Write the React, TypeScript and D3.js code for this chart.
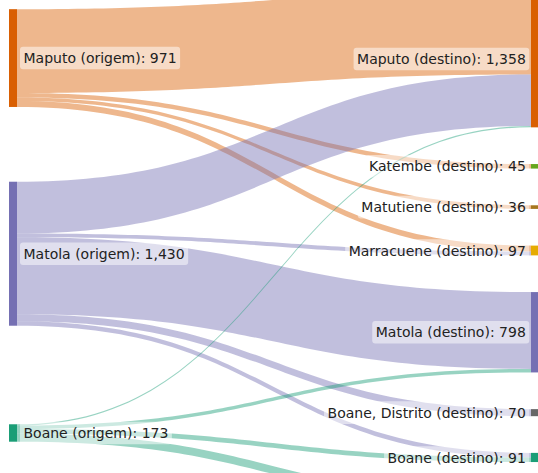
import * as d3 from "d3";
import { useEffect, useRef } from "react";

const nodeNames = [
  "Maputo (origem)",
  "Matola (origem)",
  "Boane (origem)",
  "Maputo (destino)",
  "Katembe (destino)",
  "Matutiene (destino)",
  "Marracuene (destino)",
  "Matola (destino)",
  "Boane, Distrito (destino)",
  "Boane (destino)",
  "Namaacha (destino)",
];
const nodeColors = [
  "#d95f02",
  "#7570b3",
  "#1b9e77",
  "#d95f02",
  "#66a61e",
  "#a6761d",
  "#e6ab02",
  "#7570b3",
  "#666666",
  "#1b9e77",
  "#e7298a",
];

// links: source index -> target index, value
const linkSources = [0, 0, 0, 0, 1, 1, 1, 1, 1, 2, 2, 2, 2];
const linkTargets = [3, 4, 5, 6, 3, 6, 7, 8, 9, 3, 7, 9, 10];
const linkValues = [832, 45, 36, 58, 513, 39, 763, 70, 45, 13, 35, 46, 79];

const width = 538;
const height = 473;
const nodeWidth = 8;
const nodePadding = 36.7;
const columnTop = -9.4;
const sourceColumnBottom = 441.7;
const leftX = 9;
const rightX = 531;
const linkOpacity = 0.45;
const fontSize = 14;

type SNode = {
  name: string;
  index: number;
  color: string;
  value: number;
  isSource: boolean;
  x0: number;
  x1: number;
  y0: number;
  y1: number;
};

type SLink = {
  source: number;
  target: number;
  value: number;
  sy0: number;
  sy1: number;
  ty0: number;
  ty1: number;
};

export default function App() {
  const svgRef = useRef<SVGSVGElement | null>(null);

  useEffect(() => {
    if (svgRef.current) drawSankey(svgRef.current);
  }, []);

  return (
    <svg
      ref={svgRef}
      width={width}
      height={height}
      style={{
        position: "absolute",
        left: 0,
        top: 0,
        fontFamily: "'DejaVu Sans', sans-serif",
        background: "#fff",
      }}
    />
  );
}

function drawSankey(svgElement: SVGSVGElement) {
  const svg = d3.select(svgElement);
  svg.selectAll("*").remove();

  const valueScale = d3.scaleLinear().domain([0, 1000]).range([0, 100.7]);

  const links: SLink[] = linkValues.map((value, i) => ({
    source: linkSources[i],
    target: linkTargets[i],
    value,
    sy0: 0,
    sy1: 0,
    ty0: 0,
    ty1: 0,
  }));

  const nodes: SNode[] = nodeNames.map((name, i) => {
    const inValue = d3.sum(links.filter((l) => l.target === i), (l) => l.value);
    const outValue = d3.sum(links.filter((l) => l.source === i), (l) => l.value);
    return {
      name,
      index: i,
      color: nodeColors[i],
      value: Math.max(inValue, outValue),
      isSource: inValue === 0,
      x0: 0,
      x1: 0,
      y0: 0,
      y1: 0,
    };
  });

  const sources = nodes.filter((n) => n.isSource);
  const targets = nodes.filter((n) => !n.isSource);

  // target column: packed from the top with constant padding
  let y = columnTop;
  targets.forEach((n) => {
    n.x0 = rightX;
    n.x1 = rightX + nodeWidth;
    n.y0 = y;
    n.y1 = y + valueScale(n.value);
    y = n.y1 + nodePadding;
  });

  targets.forEach((n) => {
    let offset = n.y0;
    links
      .filter((l) => l.target === n.index)
      .sort((a, b) => a.source - b.source)
      .forEach((l) => {
        l.ty0 = offset;
        offset += valueScale(l.value);
        l.ty1 = offset;
      });
  });

  // source column: each node centred on the weighted mean of its link ends,
  // then kept inside the column's bottom edge
  sources.forEach((n) => {
    const out = links.filter((l) => l.source === n.index);
    const center = d3.sum(out, (l) => (l.value * (l.ty0 + l.ty1)) / 2) / n.value;
    const h = valueScale(n.value);
    n.x0 = leftX;
    n.x1 = leftX + nodeWidth;
    n.y0 = center - h / 2;
    n.y1 = center + h / 2;
    if (n.y1 > sourceColumnBottom) {
      n.y0 -= n.y1 - sourceColumnBottom;
      n.y1 = sourceColumnBottom;
    }
  });

  sources.forEach((n) => {
    let offset = n.y0;
    links
      .filter((l) => l.source === n.index)
      .sort((a, b) => nodes[a.target].y0 - nodes[b.target].y0)
      .forEach((l) => {
        l.sy0 = offset;
        offset += valueScale(l.value);
        l.sy1 = offset;
      });
  });

  const linkPath = (l: SLink) => {
    const xs = nodes[l.source].x1;
    const xt = nodes[l.target].x0;
    const xm = d3.interpolateNumber(xs, xt)(0.5);
    const p = d3.path();
    p.moveTo(xs, l.sy0);
    p.bezierCurveTo(xm, l.sy0, xm, l.ty0, xt, l.ty0);
    p.lineTo(xt, l.ty1);
    p.bezierCurveTo(xm, l.ty1, xm, l.sy1, xs, l.sy1);
    p.closePath();
    return p.toString();
  };

  svg
    .append("g")
    .selectAll("path")
    .data(links)
    .join("path")
    .attr("d", linkPath)
    .attr("fill", (l) => nodes[l.source].color)
    .attr("fill-opacity", linkOpacity);

  svg
    .append("g")
    .selectAll("rect")
    .data(nodes)
    .join("rect")
    .attr("x", (n) => n.x0)
    .attr("y", (n) => n.y0)
    .attr("width", (n) => n.x1 - n.x0)
    .attr("height", (n) => n.y1 - n.y0)
    .attr("fill", (n) => n.color);

  // labels only for nodes that fall inside the visible area
  const labels = svg
    .append("g")
    .selectAll("g")
    .data(nodes.filter((n) => (n.y0 + n.y1) / 2 < height))
    .join("g");

  labels.each(function (n) {
    const g = d3.select(this);
    const cy = (n.y0 + n.y1) / 2;
    const bg = g.append("rect");
    const text = g
      .append("text")
      .attr("x", n.isSource ? n.x1 + 6.5 : n.x0 - 5.2)
      .attr("y", cy)
      .attr("dy", "0.36em")
      .attr("text-anchor", n.isSource ? "start" : "end")
      .attr("fill", "#222")
      .style("font-size", `${fontSize}px`)
      .text(`${n.name}: ${d3.format(",")(n.value)}`);
    const box = (text.node() as SVGTextElement).getBBox();
    bg.attr("x", box.x - 3.5)
      .attr("y", cy - 11.3)
      .attr("width", box.width + 7)
      .attr("height", 22.6)
      .attr("rx", 3)
      .attr("fill", "#fff")
      .attr("fill-opacity", 0.5);
  });
}
